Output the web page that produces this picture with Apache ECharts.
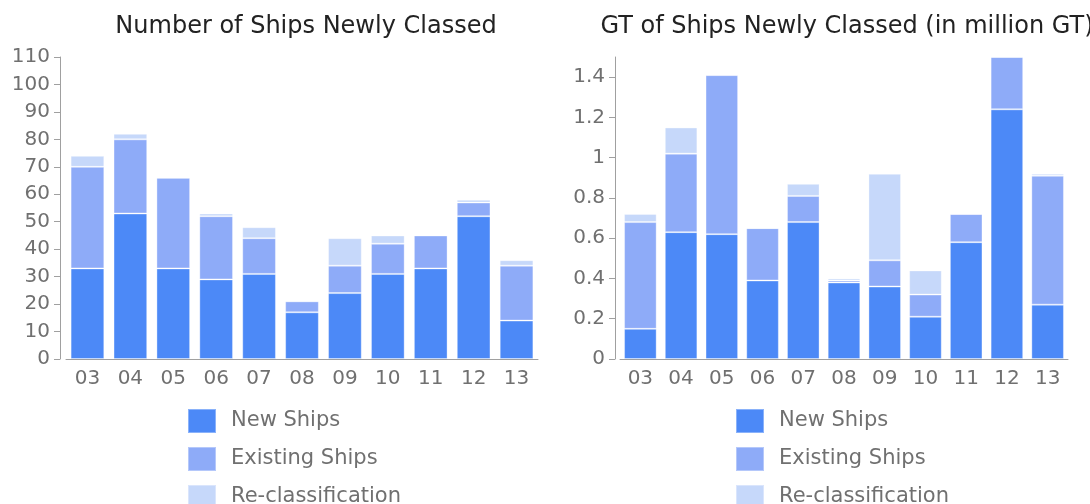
<!DOCTYPE html>
<html>
<head>
<meta charset="utf-8">
<script src="https://cdn.jsdelivr.net/npm/echarts@6/dist/echarts.min.js"></script>
<style>
html,body{margin:0;padding:0;background:#fff;}
#c{width:1090px;height:504px;}
</style>
</head>
<body>
<div id="c"></div>
<script>
const years = ['03','04','05','06','07','08','09','10','11','12','13'];
const seriesNames = ['New Ships','Existing Ships','Re-classification'];

const countNew      = [33,53,33,29,31,17,24,31,33,52,14];
const countExisting = [37,27,33,23,13,4,10,11,12,5,20];
const countReclass  = [4,2,0,1,4,0,10,3,0,1,2];

const gtNew      = [0.15,0.63,0.62,0.39,0.68,0.38,0.36,0.21,0.58,1.24,0.27];
const gtExisting = [0.53,0.39,0.79,0.26,0.13,0.01,0.13,0.11,0.14,0.26,0.64];
const gtReclass  = [0.04,0.13,0,0,0.06,0.01,0.43,0.12,0,0,0.01];

const countTicks = [0,10,20,30,40,50,60,70,80,90,100,110];
const gtTicks = [0,0.2,0.4,0.6,0.8,1,1.2,1.4];

const titles = ['Number of Ships Newly Classed','GT of Ships Newly Classed (in million GT)'];
const colors = ['#4c89f7','#8eabf8','#c6d8fa'];

const FONT = 'DejaVu Sans';
const labelColor = '#707070';
const axisColor = '#a0a0a0';

function xAx(i){
  return {
    type:'category', gridIndex:i, data:years,
    axisLine:{lineStyle:{color:axisColor}},
    axisTick:{alignWithLabel:true, length:5, lineStyle:{color:axisColor}},
    axisLabel:{fontFamily:FONT, fontSize:20, color:labelColor, margin:10}
  };
}
function yAx(i, max, ticks, off){
  return {
    type:'value', gridIndex:i, min:0, max:max, offset:off,
    axisLine:{show:true, lineStyle:{color:axisColor}},
    axisTick:{show:true, length:6, lineStyle:{color:axisColor}, customValues:ticks},
    axisLabel:{fontFamily:FONT, fontSize:20, color:labelColor, margin:10, customValues:ticks},
    splitLine:{show:false}
  };
}
function bar(name, data, idx, stack, color, w){
  return {
    name:name, type:'bar', stack:stack, data:data,
    xAxisIndex:idx, yAxisIndex:idx, barWidth:w,
    itemStyle:{color:color, borderColor:'rgba(255,255,255,0.35)', borderWidth:1},
    emphasis:{disabled:true}
  };
}
function legend(left){
  return {
    orient:'vertical', left:left, top:408, height:130, padding:0,
    itemWidth:28, itemHeight:24, itemGap:12,
    icon:'rect', selectedMode:false, data:seriesNames,
    textStyle:{fontFamily:FONT, fontSize:21, color:labelColor, padding:[0,0,0,10]}
  };
}

const chart = echarts.init(document.getElementById('c'));
chart.setOption({
  animation:false,
  color:colors,
  title:[
    {text:titles[0], left:301, top:10, textAlign:'center', textStyle:{fontFamily:FONT, fontSize:24, fontWeight:'normal', color:'#222'}},
    {text:titles[1], left:842, top:10, textAlign:'center', textStyle:{fontFamily:FONT, fontSize:24, fontWeight:'normal', color:'#222'}}
  ],
  legend:[legend(187), legend(735)],
  grid:[
    {left:66, top:57, width:472, height:302},
    {left:620, top:57, width:448, height:302}
  ],
  xAxis:[xAx(0), xAx(1)],
  yAxis:[yAx(0,110,countTicks,6), yAx(1,1.5,gtTicks,5)],
  series:[
    bar(seriesNames[0], countNew, 0, 'a', colors[0], '78.5%'),
    bar(seriesNames[1], countExisting, 0, 'a', colors[1], '78.5%'),
    bar(seriesNames[2], countReclass, 0, 'a', colors[2], '78.5%'),
    bar(seriesNames[0], gtNew, 1, 'b', colors[0], '80%'),
    bar(seriesNames[1], gtExisting, 1, 'b', colors[1], '80%'),
    bar(seriesNames[2], gtReclass, 1, 'b', colors[2], '80%')
  ]
});
</script>
</body>
</html>
